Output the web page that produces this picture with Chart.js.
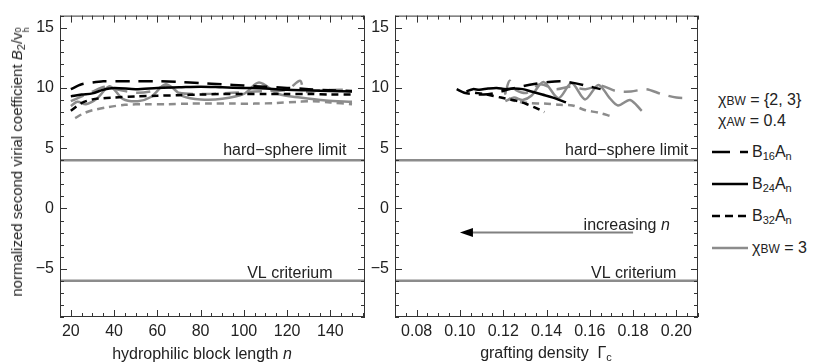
<!DOCTYPE html>
<html>
<head>
<meta charset="utf-8">
<script src="https://cdn.jsdelivr.net/npm/chart.js@4"></script>
<style>
body { margin: 0; background: #fff; width: 814px; height: 364px; position: relative; overflow: hidden;
  font-family: "Liberation Sans", Arial, sans-serif; color: #222; }
canvas { position: absolute; top: 0; }
#chart1 { left: 0; }
#chart2 { left: 365px; }
.t { position: absolute; font-size: 16px; white-space: nowrap; line-height: 18px; }
.t sub { font-size: 11px; vertical-align: -3px; line-height: 0; }
.st { display: inline-flex; flex-direction: column; font-size: 9px; line-height: 8px; vertical-align: 1px; }
.sm { font-size: 12px; }
svg { position: absolute; }
</style>
</head>
<body>
<canvas id="chart1" width="372" height="364"></canvas>
<canvas id="chart2" width="340" height="364"></canvas>

<div class="t" style="left:19px;top:162px;font-size:15px;transform:translate(-50%,-50%) rotate(-90deg)">normalized second virial coefficient <i>B</i><sub>2</sub>/v<span class="st"><span>0</span><span>h</span></span></div>
<div class="t" style="left:202px;top:354px;transform:translate(-50%,-50%)">hydrophilic block length <i>n</i></div>
<div class="t" style="left:546px;top:353px;transform:translate(-50%,-50%)">grafting density&nbsp; Γ<sub>c</sub></div>

<div class="t" style="left:718px;top:91px">χ<span class="sm">BW</span> = {2, 3}</div>
<div class="t" style="left:718px;top:112px">χ<span class="sm">AW</span> = 0.4</div>
<svg width="40" height="10" style="left:710px;top:147px"><line x1="2" y1="5" x2="38" y2="5" stroke="#000" stroke-width="2.5" stroke-dasharray="18 10"/></svg>
<svg width="40" height="10" style="left:710px;top:179px"><line x1="2" y1="5" x2="38" y2="5" stroke="#000" stroke-width="2.5"/></svg>
<svg width="40" height="10" style="left:710px;top:211px"><line x1="2" y1="5" x2="38" y2="5" stroke="#000" stroke-width="2.5" stroke-dasharray="8 5"/></svg>
<svg width="40" height="10" style="left:710px;top:243px"><line x1="2" y1="5" x2="38" y2="5" stroke="#8c8c8c" stroke-width="2.5"/></svg>
<div class="t" style="left:752px;top:143px">B<sub>16</sub>A<sub>n</sub></div>
<div class="t" style="left:752px;top:175px">B<sub>24</sub>A<sub>n</sub></div>
<div class="t" style="left:752px;top:207px">B<sub>32</sub>A<sub>n</sub></div>
<div class="t" style="left:752px;top:239px">χ<span class="sm">BW</span> = 3</div>

<script>
// left panel: hydrophilic block length n
const nBlack = [20, 25, 30, 35, 40, 50, 60, 70, 80, 90, 100, 110, 120, 130, 140, 150];
const b16 = [9.9, 10.3, 10.45, 10.55, 10.55, 10.55, 10.55, 10.5, 10.4, 10.3, 10.2, 10.1, 10.0, 9.9, 9.8, 9.75];
const b24 = [9.3, 9.45, 9.55, 9.85, 10.0, 9.9, 10.0, 10.05, 10.1, 10.05, 10.0, 9.95, 9.85, 9.8, 9.75, 9.7];
const b32 = [8.1, 8.75, 9.05, 9.15, 9.2, 9.3, 9.35, 9.4, 9.45, 9.5, 9.5, 9.5, 9.5, 9.5, 9.45, 9.45];

const nGray16 = [20, 25, 30, 36, 42, 50, 58, 64, 70, 80, 90, 100, 110, 120, 126, 128, 135, 145, 150];
const g16 = [8.9, 9.3, 9.7, 10.1, 9.85, 9.6, 9.75, 10.2, 9.6, 9.5, 9.55, 9.65, 9.75, 9.85, 10.6, 9.7, 9.8, 9.85, 9.85];
const nGray24 = [20, 23, 27, 32, 38, 44, 51, 57, 64, 72, 80, 90, 100, 107, 116, 126, 138, 150];
const g24 = [8.5, 8.85, 8.65, 9.1, 10.15, 9.1, 8.9, 9.25, 10.3, 9.3, 9.05, 9.1, 9.5, 10.45, 9.5, 9.2, 8.95, 8.85];
const nGray32 = [22, 26, 30, 37, 45, 55, 65, 75, 85, 95, 105, 115, 125, 132, 140, 150];
const g32 = [7.5, 7.9, 8.15, 8.4, 8.6, 8.65, 8.65, 8.7, 8.7, 8.7, 8.7, 8.75, 8.85, 8.9, 8.8, 8.65];

// right panel: grafting density
const gamBlack16 = [0.0985, 0.102, 0.106, 0.111, 0.117, 0.123, 0.129, 0.135, 0.141, 0.147, 0.153, 0.159, 0.165];
const r16 = [9.9, 9.6, 9.5, 9.45, 9.6, 9.9, 10.15, 10.35, 10.5, 10.55, 10.4, 10.15, 9.9];
const gamBlack24 = [0.103, 0.106, 0.109, 0.113, 0.117, 0.121, 0.125, 0.129, 0.133, 0.138, 0.143, 0.149];
const r24 = [9.7, 9.9, 9.85, 9.95, 10.0, 9.9, 9.95, 9.9, 9.7, 9.45, 9.2, 8.8];
const gamBlack32 = [0.107, 0.111, 0.115, 0.119, 0.123, 0.127, 0.131, 0.135, 0.139];
const r32 = [9.6, 9.5, 9.35, 9.2, 9.05, 8.9, 8.65, 8.35, 8.0];

const gamGray16 = [0.121, 0.123, 0.126, 0.131, 0.137, 0.144, 0.151, 0.158, 0.165, 0.172, 0.179, 0.186, 0.193, 0.2, 0.206];
const rg16 = [9.6, 10.6, 9.8, 9.6, 10.3, 9.9, 10.1, 9.9, 10.2, 9.75, 9.7, 9.9, 9.5, 9.2, 9.15];
const gamGray24 = [0.121, 0.125, 0.129, 0.133, 0.1386, 0.1455, 0.1516, 0.1578, 0.164, 0.169, 0.173, 0.1786, 0.184];
const rg24 = [8.9, 9.2, 9.0, 9.35, 10.5, 9.15, 10.4, 9.05, 10.25, 9.2, 8.55, 9.0, 8.1];
const gamGray32 = [0.12, 0.122, 0.126, 0.132, 0.139, 0.146, 0.152, 0.158, 0.164, 0.17];
const rg32 = [10.0, 9.2, 8.9, 8.75, 8.7, 8.6, 8.55, 8.15, 7.95, 7.65];

// tick labels
const yTicks = [-5, 0, 5, 10, 15];
const nTicks = [20, 40, 60, 80, 100, 120, 140];
const gamTicks = [0.08, 0.10, 0.12, 0.14, 0.16, 0.18, 0.20];

// reference levels and axis ranges
const hardSphere = 4;
const vlCriterium = -6;
const yRange = [-9, 16];
const nRange = [15, 156];
const gamRange = [0.07, 0.21];
const arrowFrom = 0.18, arrowTo = 0.10, arrowLevel = -2;

const FONT = '"Liberation Sans", Arial, sans-serif';
Chart.defaults.font.family = FONT;
Chart.defaults.font.size = 16;
Chart.defaults.color = '#222';

const GRAY = '#8c8c8c';
const pts = (xs, ys) => xs.map((x, i) => ({x: x, y: ys[i]}));

function curve(xs, ys, color, dash) {
	return {
		data: pts(xs, ys), borderColor: color, borderWidth: 2.5, borderDash: dash,
		pointRadius: 0, tension: 0.3, fill: false
	};
}
function level(range, v) {
	return { data: [{x: range[0], y: v}, {x: range[1], y: v}], borderColor: GRAY, borderWidth: 2.5, pointRadius: 0 };
}

// frame with inside ticks on all four sides, like the original
const frameTicks = {
	id: 'frameTicks',
	afterDatasetsDraw(chart, args, o) {
		const {ctx, chartArea: a, scales: {x, y}} = chart;
		ctx.save();
		ctx.strokeStyle = '#333';
		ctx.lineWidth = 1;
		ctx.beginPath();
		const step = (min, max, minor, every, fn) => {
			for (let k = Math.ceil(min / minor - 1e-9); k * minor <= max + 1e-9; k++) fn(k * minor, k % every === 0);
		};
		step(o.xmin, o.xmax, o.xminor, o.xevery, (v, major) => {
			const px = Math.round(x.getPixelForValue(v)) + 0.5, len = major ? 7 : 4;
			ctx.moveTo(px, a.bottom); ctx.lineTo(px, a.bottom - len);
			ctx.moveTo(px, a.top); ctx.lineTo(px, a.top + len);
		});
		step(yRange[0], yRange[1], 1, 5, (v, major) => {
			const py = Math.round(y.getPixelForValue(v)) + 0.5, len = major ? 7 : 4;
			ctx.moveTo(a.left, py); ctx.lineTo(a.left + len, py);
			ctx.moveTo(a.right, py); ctx.lineTo(a.right - len, py);
		});
		ctx.stroke();
		ctx.strokeRect(a.left + 0.5, a.top + 0.5, a.width - 1, a.height - 1);
		ctx.restore();
	}
};

const notes = {
	id: 'notes',
	afterDatasetsDraw(chart, args, o) {
		const {ctx, scales: {x, y}} = chart;
		ctx.save();
		ctx.fillStyle = '#222';
		ctx.font = '16px ' + FONT;
		ctx.textAlign = 'right';
		ctx.fillText('hard\u2212sphere limit', x.getPixelForValue(o.hsAt), y.getPixelForValue(hardSphere) - 5);
		ctx.fillText('VL criterium', x.getPixelForValue(o.vlAt), y.getPixelForValue(vlCriterium) - 3);
		if (o.arrow) {
			const x0 = x.getPixelForValue(arrowFrom), x1 = x.getPixelForValue(arrowTo), py = y.getPixelForValue(arrowLevel);
			ctx.strokeStyle = '#808080';
			ctx.lineWidth = 2;
			ctx.beginPath(); ctx.moveTo(x0, py); ctx.lineTo(x1 + 10, py); ctx.stroke();
			ctx.fillStyle = '#000';
			ctx.beginPath(); ctx.moveTo(x1, py); ctx.lineTo(x1 + 13, py - 4.5); ctx.lineTo(x1 + 13, py + 4.5); ctx.closePath(); ctx.fill();
			ctx.fillStyle = '#222';
			const right = x.getPixelForValue(0.197);
			ctx.font = 'italic 16px ' + FONT;
			const wn = ctx.measureText('n').width;
			ctx.fillText('n', right, py - 3);
			ctx.font = '16px ' + FONT;
			ctx.fillText('increasing ', right - wn, py - 3);
		}
		ctx.restore();
	}
};

function yScale(w, pad) {
	return {
		type: 'linear', min: yRange[0], max: yRange[1],
		grid: {display: false, drawTicks: false}, border: {display: false},
		ticks: {padding: pad, callback: v => v < 0 ? '\u2212' + Math.abs(v) : v},
		afterBuildTicks: s => { s.ticks = yTicks.map(v => ({value: v})); },
		afterFit: s => { s.width = w; }
	};
}
function xScale(range, vals, fmt) {
	return {
		type: 'linear', min: range[0], max: range[1],
		grid: {display: false, drawTicks: false}, border: {display: false},
		ticks: {autoSkip: false, maxRotation: 0, padding: 5, callback: fmt},
		afterBuildTicks: s => { s.ticks = vals.map(v => ({value: v})); },
		afterFit: s => { s.height = 30; }
	};
}

new Chart(document.getElementById('chart1'), {
	type: 'line',
	data: {
		datasets: [
			curve(nBlack, b16, '#000', [14, 9]),
			curve(nBlack, b24, '#000', []),
			curve(nBlack, b32, '#000', [7, 5]),
			curve(nGray16, g16, GRAY, [14, 9]),
			curve(nGray24, g24, GRAY, []),
			curve(nGray32, g32, GRAY, [7, 5]),
			level(nRange, hardSphere),
			level(nRange, vlCriterium)
		]
	},
	options: {
		responsive: false, animation: false,
		layout: {padding: {left: 15, right: 7, top: 14, bottom: 17}},
		plugins: {
			legend: {display: false}, tooltip: {enabled: false},
			frameTicks: {xmin: nRange[0], xmax: nRange[1], xminor: 5, xevery: 4},
			notes: {hsAt: 147.4, vlAt: 141}
		},
		scales: {x: xScale(nRange, nTicks, v => v), y: yScale(45, 6)}
	},
	plugins: [frameTicks, notes]
});

new Chart(document.getElementById('chart2'), {
	type: 'line',
	data: {
		datasets: [
			curve(gamBlack16, r16, '#000', [14, 9]),
			curve(gamBlack24, r24, '#000', []),
			curve(gamBlack32, r32, '#000', [7, 5]),
			curve(gamGray16, rg16, GRAY, [14, 9]),
			curve(gamGray24, rg24, GRAY, []),
			curve(gamGray32, rg32, GRAY, [7, 5]),
			level(gamRange, hardSphere),
			level(gamRange, vlCriterium)
		]
	},
	options: {
		responsive: false, animation: false,
		layout: {padding: {left: 0, right: 7, top: 14, bottom: 17}},
		plugins: {
			legend: {display: false}, tooltip: {enabled: false},
			frameTicks: {xmin: gamRange[0], xmax: gamRange[1], xminor: 0.005, xevery: 4},
			notes: {hsAt: 0.2055, vlAt: 0.2, arrow: true}
		},
		scales: {x: xScale(gamRange, gamTicks, v => v.toFixed(2)), y: yScale(30, 6)}
	},
	plugins: [frameTicks, notes]
});
</script>
</body>
</html>
